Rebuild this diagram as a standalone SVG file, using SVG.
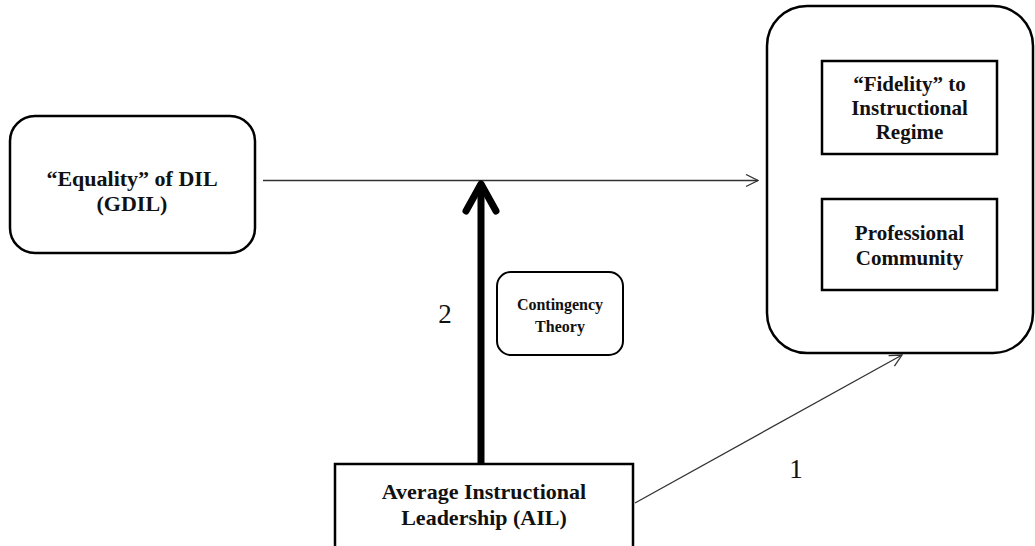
<svg xmlns="http://www.w3.org/2000/svg" width="1035" height="546" viewBox="0 0 1035 546">
<style>
.box{fill:#fff;stroke:#000;stroke-width:2.5}
.t{font-family:"Liberation Serif","Times New Roman",serif;font-weight:bold;text-anchor:middle;fill:#111}
.num{font-family:"Liberation Serif","Times New Roman",serif;font-size:27px;text-anchor:middle;fill:#111}
.thin{fill:none;stroke:#333;stroke-width:1.3}
</style>
<defs>
<marker id="open" viewBox="0 0 14 14" refX="13" refY="7" markerWidth="14" markerHeight="14" markerUnits="userSpaceOnUse" orient="auto">
<path d="M1,1 L13,7 L1,13" fill="none" stroke="#333" stroke-width="1.3"/>
</marker>
</defs>
<rect width="1035" height="546" fill="#fff"/>
<g id="connectors">
<line class="thin" x1="263" y1="180.5" x2="758" y2="180.5" marker-end="url(#open)"/>
<line class="thin" x1="635" y1="503" x2="902" y2="355" marker-end="url(#open)"/>
<line x1="481" y1="463" x2="481" y2="186" stroke="#000" stroke-width="7"/>
<polyline points="466,211 481,184 496,211" fill="none" stroke="#000" stroke-width="7" stroke-linecap="round" stroke-linejoin="round"/>
</g>
<g id="gdil">
<rect class="box" x="10" y="116" width="245" height="137" rx="25"/>
<text class="t" font-size="22" x="132" y="186">“Equality” of DIL</text>
<text class="t" font-size="22" x="132" y="211">(GDIL)</text>
</g>
<g id="outcomes">
<rect class="box" x="767" y="6" width="266" height="347" rx="40"/>
</g>
<g id="fidelity">
<rect class="box" x="822" y="61" width="175" height="93"/>
<text class="t" font-size="21" x="909.5" y="91">“Fidelity” to</text>
<text class="t" font-size="21" x="909.5" y="115">Instructional</text>
<text class="t" font-size="21" x="909.5" y="139">Regime</text>
</g>
<g id="community">
<rect class="box" x="822" y="199" width="175" height="91"/>
<text class="t" font-size="21" x="909.5" y="240">Professional</text>
<text class="t" font-size="21" x="909.5" y="265">Community</text>
</g>
<g id="contingency">
<rect class="box" x="497" y="272" width="126" height="83" rx="14" style="stroke-width:2"/>
<text class="t" font-size="16" x="560" y="310">Contingency</text>
<text class="t" font-size="16" x="560" y="332">Theory</text>
</g>
<g id="ail">
<rect class="box" x="335" y="464" width="298" height="100"/>
<text class="t" font-size="22" x="484" y="499">Average Instructional</text>
<text class="t" font-size="22" x="484" y="525">Leadership (AIL)</text>
</g>
<g id="labels">
<text class="num" x="445" y="323">2</text>
<text class="num" x="796" y="478">1</text>
</g>
</svg>
